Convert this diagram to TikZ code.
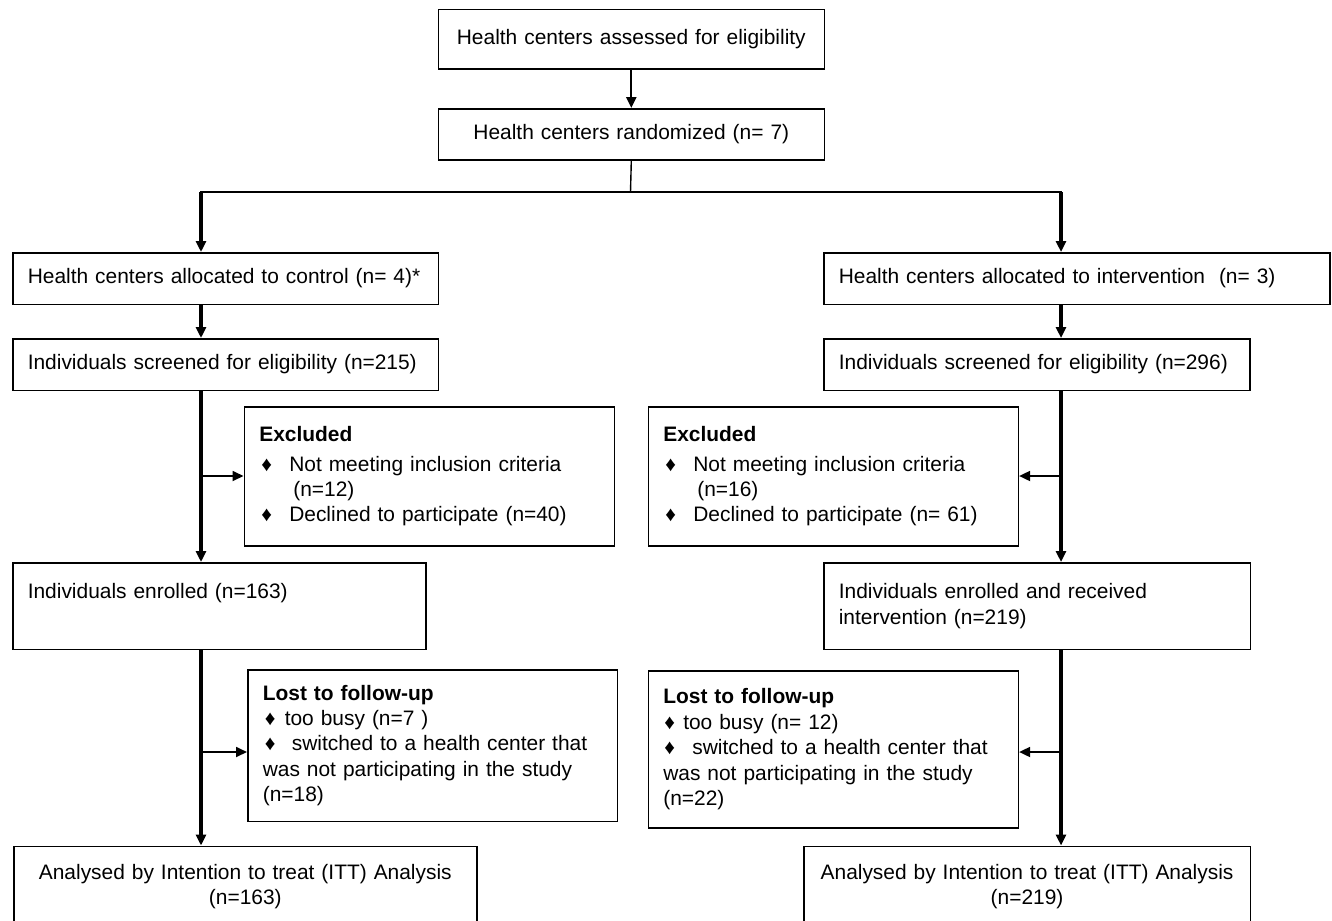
\documentclass[tikz,border=0pt]{standalone}
\usepackage{fontspec}
\setmainfont{Liberation Sans}
\usetikzlibrary{arrows.meta,calc}
\newcommand{\dia}{{\fontsize{21}{21}\selectfont ♦}}
\begin{document}
\begin{tikzpicture}[x=1bp,y=-1bp,
  font=\fontsize{21}{25.5}\selectfont,
  box/.style={draw=black,line width=1.6bp,rectangle,anchor=north west,inner ysep=0pt,inner xsep=15bp,align=left},
  cbox/.style={draw=black,line width=1.6bp,rectangle,anchor=north west,inner ysep=0pt,inner xsep=0pt,align=center},
  spine/.style={line width=3.4bp,-{Triangle[length=11bp,width=10bp]}},
  thinarrow/.style={line width=2.2bp,-{Triangle[length=11bp,width=10bp]}},
  branch/.style={line width=1.8bp,-{Triangle[length=11bp,width=10bp]}},
  plain/.style={line width=1.4bp}
]
\useasboundingbox[fill=white] (0,0) rectangle (1332,920);

% boxes
\node[cbox,text width=386bp,minimum height=59.5bp] (assess) at (437.5,8.5) {Health centers assessed for eligibility};
\node[cbox,text width=386bp,minimum height=51bp] (rand) at (437.5,108) {Health centers randomized (n= 7)};
\node[box,text width=395.5bp,minimum height=51.5bp] (ctrl) at (12,252) {Health centers allocated to control (n= 4)*};
\node[box,text width=476bp,minimum height=51.5bp] (intv) at (823,252) {Health centers allocated to intervention~~(n= 3)};
\node[box,text width=395.5bp,minimum height=51.5bp] (scrL) at (12,338) {Individuals screened for eligibility (n=215)};
\node[box,text width=396bp,minimum height=51.5bp] (scrR) at (823,338) {Individuals screened for eligibility (n=296)};

\node[box,text width=340bp,minimum height=139bp] (exL) at (243.5,406)
 {\textbf{Excluded}\\[4bp]
  \hspace*{2bp}\makebox[28bp][l]{\dia}Not meeting inclusion criteria\\
  \hspace*{34bp}(n=12)\\
  \hspace*{2bp}\makebox[28bp][l]{\dia}Declined to participate (n=40)};
\node[box,text width=340bp,minimum height=139bp] (exR) at (647.5,406)
 {\textbf{Excluded}\\[4bp]
  \hspace*{2bp}\makebox[28bp][l]{\dia}Not meeting inclusion criteria\\
  \hspace*{34bp}(n=16)\\
  \hspace*{2bp}\makebox[28bp][l]{\dia}Declined to participate (n= 61)};

\node[box,text width=383bp,minimum height=86.5bp,text depth=31bp] (enL) at (12,562) {Individuals enrolled (n=163)};
\node[box,text width=396.5bp,minimum height=86.5bp,font=\fontsize{21}{27}\selectfont] (enR) at (823,562) {Individuals enrolled and received\\intervention (n=219)};

\node[box,text width=339.5bp,minimum height=151.5bp] (lostL) at (247,669)
 {\textbf{Lost to follow-up}\\
  \hspace*{2bp}\makebox[20bp][l]{\dia}too busy (n=7 )\\
  \hspace*{2bp}\makebox[27bp][l]{\dia}switched to a health center that\\
  was not participating in the study\\
  (n=18)};
\node[box,text width=340bp,minimum height=157bp] (lostR) at (647.5,670)
 {\textbf{Lost to follow-up}\\
  \hspace*{1bp}\makebox[19bp][l]{\dia}too busy (n= 12)\\
  \hspace*{1bp}\makebox[28bp][l]{\dia}switched to a health center that\\
  was not participating in the study\\
  (n=22)};

\node[cbox,text width=463bp,minimum height=80bp,font=\fontsize{21}{25}\selectfont] (anL) at (13,845.5) {Analysed by Intention to treat (ITT) Analysis\\(n=163)};
\node[cbox,text width=446.5bp,minimum height=80bp,font=\fontsize{21}{25}\selectfont] (anR) at (803,845.5) {Analysed by Intention to treat (ITT) Analysis\\(n=219)};

% spine coordinates
\coordinate (L) at (201,0);
\coordinate (R) at (1061,0);
\coordinate (split) at (630.5,192);
\coordinate (bL1) at (201,476);
\coordinate (bR1) at (1061,476);
\coordinate (bL2) at (201,752);
\coordinate (bR2) at (1061,752);

% connectors
\draw[thinarrow] (assess.south) -- (rand.north);
\draw[plain] (rand.south) -- (split);
\draw[line width=1.8bp] ([xshift=-0.9bp]split -| L) -- ([xshift=0.9bp]split -| R);
\draw[spine] (split -| L) -- (ctrl.north -| L);
\draw[spine] (split -| R) -- (intv.north -| R);
\draw[spine] (ctrl.south -| L) -- (scrL.north -| L);
\draw[spine] (intv.south -| R) -- (scrR.north -| R);
\draw[spine] (scrL.south -| L) -- (enL.north -| L);
\draw[spine] (scrR.south -| R) -- (enR.north -| R);
\draw[branch] (bL1) -- (bL1 -| exL.west);
\draw[branch] (bR1) -- (bR1 -| exR.east);
\draw[spine] (enL.south -| L) -- (anL.north -| L);
\draw[spine] (enR.south -| R) -- (anR.north -| R);
\draw[branch] (bL2) -- (bL2 -| lostL.west);
\draw[branch] (bR2) -- (bR2 -| lostR.east);
\end{tikzpicture}
\end{document}
